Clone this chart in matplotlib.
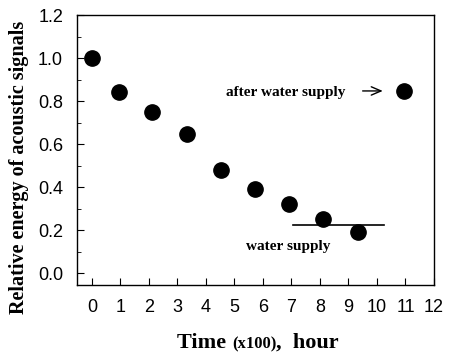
import matplotlib
matplotlib.use("Agg")
import matplotlib.pyplot as plt
from matplotlib.ticker import MultipleLocator

# data
time_h = [0.0, 0.95, 2.1, 3.35, 4.53, 5.73, 6.92, 8.12, 9.33, 10.95]
rel_energy = [1.0, 0.84, 0.75, 0.645, 0.48, 0.39, 0.32, 0.25, 0.19, 0.848]
supply_x = [7.05, 10.25]
supply_y = [0.222, 0.222]

x_ticks = list(range(0, 13))
y_ticks = [0.0, 0.2, 0.4, 0.6, 0.8, 1.0, 1.2]

fig = plt.figure(figsize=(4.51, 3.55), dpi=100)
ax = fig.add_axes([77 / 451, 1 - 285 / 355, 357 / 451, 270 / 355])

ax.plot(time_h, rel_energy, "o", color="black", markersize=11)
ax.plot(supply_x, supply_y, "-", color="black", linewidth=1.2)

ax.set_xlim(-0.52, 12)
ax.set_ylim(-0.055, 1.2)
ax.set_xticks(x_ticks)
ax.set_yticks(y_ticks)
ax.set_yticklabels([f"{v:.1f}" for v in y_ticks])
ax.yaxis.set_minor_locator(MultipleLocator(0.1))

ax.tick_params(axis="both", which="major", direction="in", length=5,
               labelsize=13, top=False, right=False)
ax.tick_params(axis="y", which="minor", direction="in", length=3)
for lab in ax.get_xticklabels() + ax.get_yticklabels():
    lab.set_fontfamily("Liberation Sans")
ax.tick_params(axis="x", pad=10)
ax.tick_params(axis="y", pad=10)

for s in ax.spines.values():
    s.set_linewidth(1.0)

serif = "Liberation Serif"
ax.set_ylabel("Relative energy of acoustic signals", fontfamily=serif,
              fontweight="bold", fontsize=14.5)
ax.yaxis.set_label_coords(-0.135, 0.435)

# x label in three pieces, "(x100)" set smaller
t1 = fig.text(177 / 451, 1 - 348 / 355, "Time ", fontfamily=serif,
              fontweight="bold", fontsize=16, ha="left", va="baseline")
t2 = fig.text(0, 0, "(x100)", fontfamily=serif, fontweight="bold",
              fontsize=12, ha="left", va="baseline")
t3 = fig.text(0, 0, ",  hour", fontfamily=serif, fontweight="bold",
              fontsize=16, ha="left", va="baseline")
fig.canvas.draw()
r = fig.canvas.get_renderer()
bb1 = t1.get_window_extent(r)
t2.set_position((bb1.x1 / fig.bbox.width, 1 - 348 / 355))
bb2 = t2.get_window_extent(r)
t3.set_position((bb2.x1 / fig.bbox.width, 1 - 348 / 355))

ax.text(6.8, 0.84, "after water supply", fontfamily=serif, fontweight="bold",
        fontsize=11, ha="center", va="center")
ax.annotate("", xy=(10.3, 0.847), xytext=(9.4, 0.847),
            arrowprops=dict(arrowstyle="->,head_length=0.7,head_width=0.3",
                            color="black", lw=1.0))
ax.text(6.9, 0.125, "water supply", fontfamily=serif, fontweight="bold",
        fontsize=11, ha="center", va="center")

fig.savefig("out.png", dpi=100)
